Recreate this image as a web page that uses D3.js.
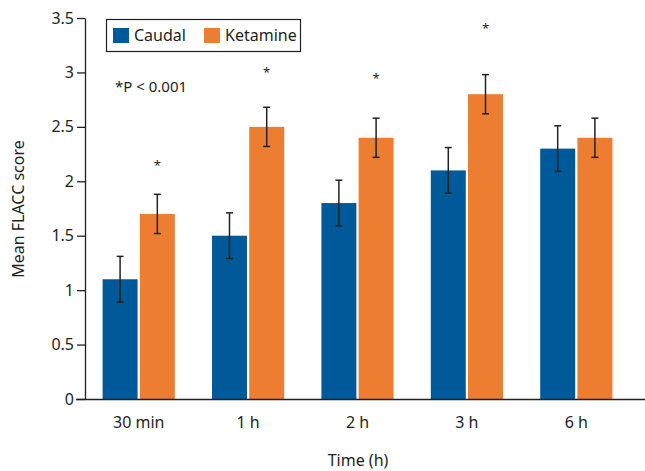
<!DOCTYPE html>
<html>
<head>
<meta charset="utf-8">
<script src="https://cdn.jsdelivr.net/npm/d3@7"></script>
<style>
  body { margin: 0; background: #fff; }
  text { font-family: "Noto Sans", "Open Sans", sans-serif; fill: #231f20; }
</style>
</head>
<body>
<script>
var width = 645,
    height = 471;

// data
var times = ["30 min", "1 h", "2 h", "3 h", "6 h"];
var series = ["Caudal", "Ketamine"];
var caudal = [1.1, 1.5, 1.8, 2.1, 2.3];
var caudalErr = [0.21, 0.21, 0.21, 0.21, 0.21];
var ketamine = [1.7, 2.5, 2.4, 2.8, 2.4];
var ketamineErr = [0.18, 0.18, 0.18, 0.18, 0.18];
var starY = [2.17, 3.02, 2.97, 3.43, null];
var yTicks = [0, 0.5, 1, 1.5, 2, 2.5, 3, 3.5];
var colors = ["#005a9a", "#ed7d31"];

var svg = d3.select('body')
  .append('svg')
  .attr('width', width)
  .attr('height', height);

var x = d3.scaleBand()
  .domain(times)
  .range([84, 631])
  .paddingInner(0.34)
  .paddingOuter(0.17);

var xs = d3.scaleBand()
  .domain(series)
  .range([0, x.bandwidth()])
  .paddingInner(0.06);

var y = d3.scaleLinear()
  .domain([0, 3.5])
  .range([399, 18]);

var rows = [];
times.forEach(function(t, i) {
  rows.push({t: t, s: "Caudal", v: caudal[i], e: caudalErr[i], c: colors[0]});
  rows.push({t: t, s: "Ketamine", v: ketamine[i], e: ketamineErr[i], c: colors[1]});
});

// bars
svg.append('g').selectAll('rect')
  .data(rows)
  .enter()
  .append('rect')
  .attr('x', d => x(d.t) + xs(d.s))
  .attr('y', d => y(d.v))
  .attr('width', xs.bandwidth())
  .attr('height', d => y(0) - y(d.v))
  .attr('fill', d => d.c);

// error bars
var eb = svg.append('g').attr('stroke', '#222').attr('stroke-width', 1.5);
rows.forEach(function(d) {
  var cx = x(d.t) + xs(d.s) + xs.bandwidth() / 2;
  eb.append('line').attr('x1', cx).attr('x2', cx).attr('y1', y(d.v + d.e)).attr('y2', y(d.v - d.e));
  eb.append('line').attr('x1', cx - 3.5).attr('x2', cx + 3.5).attr('y1', y(d.v + d.e)).attr('y2', y(d.v + d.e));
  eb.append('line').attr('x1', cx - 3.5).attr('x2', cx + 3.5).attr('y1', y(d.v - d.e)).attr('y2', y(d.v - d.e));
});

// stars
svg.append('g').selectAll('text')
  .data(times.filter((t, i) => starY[i] != null))
  .enter()
  .append('text')
  .attr('x', d => x(d) + xs("Ketamine") + xs.bandwidth() / 2)
  .attr('y', (d, i) => y(starY[i]) + 7)
  .attr('text-anchor', 'middle')
  .style('font-size', '13px')
  .text('*');

// axes
var yAxis = svg.append('g')
  .attr('transform', 'translate(85,0)')
  .call(d3.axisLeft(y).tickValues(yTicks).tickSize(8).tickSizeOuter(0).tickFormat(d3.format('')));
yAxis.select('.domain').attr('stroke', '#231f20').attr('stroke-width', 1.3);
yAxis.selectAll('.tick line').attr('stroke', '#231f20').attr('stroke-width', 1.3);
yAxis.selectAll('.tick text').attr('x', -11).style('font-size', '16px').style('fill', '#231f20');

var xAxis = svg.append('g')
  .attr('transform', 'translate(0,399)')
  .call(d3.axisBottom(x).tickSize(0).tickPadding(18));
xAxis.select('.domain').attr('d', 'M76,0.5H645').attr('stroke', '#231f20').attr('stroke-width', 1.3);
xAxis.selectAll('.tick text').style('font-size', '16px').style('fill', '#231f20');

svg.append('text')
  .attr('x', 358)
  .attr('y', 466)
  .attr('text-anchor', 'middle')
  .style('font-size', '16px')
  .text('Time (h)');

svg.append('text')
  .attr('transform', 'translate(24,209) rotate(-90)')
  .attr('text-anchor', 'middle')
  .style('font-size', '16px')
  .text('Mean FLACC score');

svg.append('text')
  .attr('x', 115)
  .attr('y', 92)
  .style('font-size', '15px')
  .text('*P < 0.001');

// legend
var legend = svg.append('g');
legend.append('rect')
  .attr('x', 106.5).attr('y', 19.5).attr('width', 194).attr('height', 32)
  .attr('fill', '#fff').attr('stroke', '#231f20').attr('stroke-width', 1.2);
var lx = [113, 204];
series.forEach(function(s, i) {
  legend.append('rect').attr('x', lx[i]).attr('y', 28).attr('width', 16).attr('height', 15).attr('fill', colors[i]);
  legend.append('text').attr('x', lx[i] + 21).attr('y', 41).style('font-size', '16px').text(s);
});
</script>
</body>
</html>
